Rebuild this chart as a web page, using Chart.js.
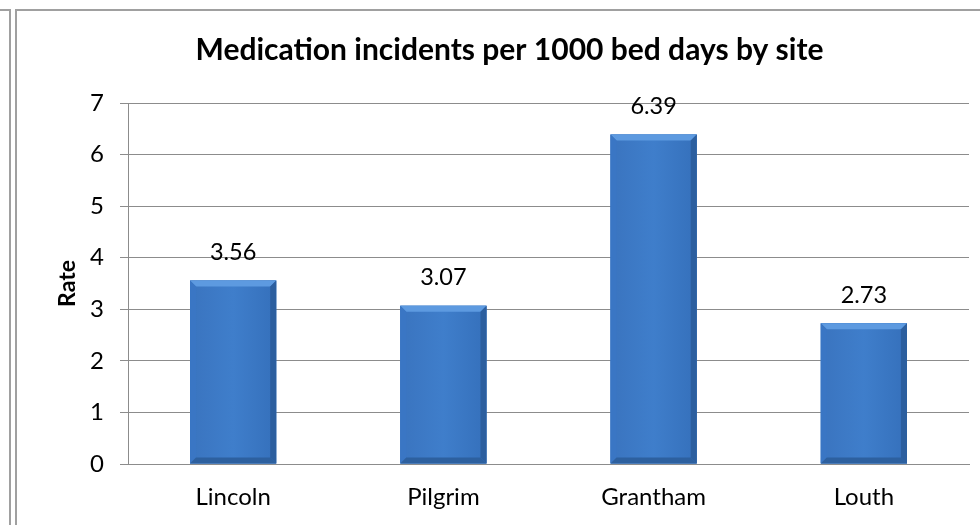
<!DOCTYPE html>
<html>
<head>
<meta charset="utf-8">
<script src="https://cdn.jsdelivr.net/npm/chart.js@4.4.1/dist/chart.umd.min.js"></script>
<style>
  html, body { margin: 0; padding: 0; background: #fff; width: 980px; height: 525px; overflow: hidden; }
  .ln { position: absolute; background: #a0a0a0; }
  #c { position: absolute; left: 0; top: 0; }
</style>
</head>
<body>
<div class="ln" style="left:0;top:9px;width:11px;height:2px;"></div>
<div class="ln" style="left:9px;top:9px;width:2px;height:520px;"></div>
<div class="ln" style="left:15px;top:9px;width:970px;height:2px;"></div>
<div class="ln" style="left:15px;top:9px;width:2px;height:520px;"></div>
<canvas id="c" width="980" height="525"></canvas>
<script>
const categories = ["Lincoln", "Pilgrim", "Grantham", "Louth"];
const rates = [3.56, 3.07, 6.39, 2.73];
const valueLabels = ["3.56", "3.07", "6.39", "2.73"];
const chartTitle = "Medication incidents per 1000 bed days by site";
const yAxisTitle = "Rate";

const FONT = "Lato, 'Liberation Sans', sans-serif";
const GRID = "#8c8c8c";

const bevelPlugin = {
  id: "bevel",
  afterDatasetsDraw(chart) {
    const ctx = chart.ctx;
    const meta = chart.getDatasetMeta(0);
    meta.data.forEach((bar) => {
      const w = bar.width;
      const l = bar.x - w / 2, r = bar.x + w / 2, t = bar.y, b = bar.base;
      const bv = 6;
      ctx.save();
      const g = ctx.createLinearGradient(l, 0, r, 0);
      g.addColorStop(0, "#3a74bf");
      g.addColorStop(0.5, "#3f7ecb");
      g.addColorStop(1, "#3570bb");
      ctx.fillStyle = g;
      ctx.fillRect(l, t, w, b - t);
      ctx.beginPath();
      ctx.moveTo(l, t); ctx.lineTo(r, t); ctx.lineTo(r - bv, t + bv); ctx.lineTo(l + bv, t + bv); ctx.closePath();
      ctx.fillStyle = "#5d9ae0"; ctx.fill();
      ctx.beginPath();
      ctx.moveTo(l, t); ctx.lineTo(l + bv, t + bv); ctx.lineTo(l + bv, b - bv); ctx.lineTo(l, b); ctx.closePath();
      ctx.fillStyle = "#3a76c4"; ctx.fill();
      ctx.beginPath();
      ctx.moveTo(r, t); ctx.lineTo(r - bv, t + bv); ctx.lineTo(r - bv, b - bv); ctx.lineTo(r, b); ctx.closePath();
      ctx.fillStyle = "#2c5f9f"; ctx.fill();
      ctx.beginPath();
      ctx.moveTo(l, b); ctx.lineTo(l + bv, b - bv); ctx.lineTo(r - bv, b - bv); ctx.lineTo(r, b); ctx.closePath();
      ctx.fillStyle = "#2d609f"; ctx.fill();
      ctx.restore();
    });
    ctx.save();
    ctx.font = "23.5px " + FONT;
    ctx.fillStyle = "#000";
    ctx.textAlign = "center";
    ctx.textBaseline = "middle";
    meta.data.forEach((bar, i) => {
      ctx.fillText(valueLabels[i], bar.x, bar.y - 28);
    });
    ctx.restore();
  }
};

new Chart(document.getElementById("c"), {
  type: "bar",
  data: {
    labels: categories,
    datasets: [{
      data: rates,
      backgroundColor: "#3f7ecb",
      borderWidth: 0,
      barPercentage: 0.41,
      categoryPercentage: 1.0
    }]
  },
  options: {
    responsive: false,
    animation: false,
    devicePixelRatio: 1,
    layout: { padding: { left: 50, right: 11, top: 0, bottom: 0 } },
    plugins: {
      legend: { display: false },
      tooltip: { enabled: false },
      title: {
        display: true,
        text: chartTitle,
        color: "#000",
        font: { family: FONT, size: 30, weight: "bold" },
        padding: { top: 32, bottom: 35 }
      }
    },
    scales: {
      x: {
        grid: { display: false, drawTicks: false },
        border: { display: true, color: GRID, width: 1 },
        ticks: { color: "#000", font: { family: FONT, size: 24 }, padding: 19 },
        afterFit(s) { s.height = 61; }
      },
      y: {
        min: 0, max: 7,
        ticks: { stepSize: 1, color: "#000", font: { family: FONT, size: 24 }, padding: 16 },
        grid: { color: GRID, lineWidth: 1, drawTicks: true, tickLength: 8, tickColor: GRID },
        border: { display: true, color: GRID, width: 1 },
        title: {
          display: true, text: yAxisTitle, color: "#000",
          font: { family: FONT, size: 23, weight: "bold" },
          padding: { top: 4, bottom: 0 }
        },
        afterFit(s) { s.width = 78; }
      }
    }
  },
  plugins: [bevelPlugin]
});
</script>
</body>
</html>
